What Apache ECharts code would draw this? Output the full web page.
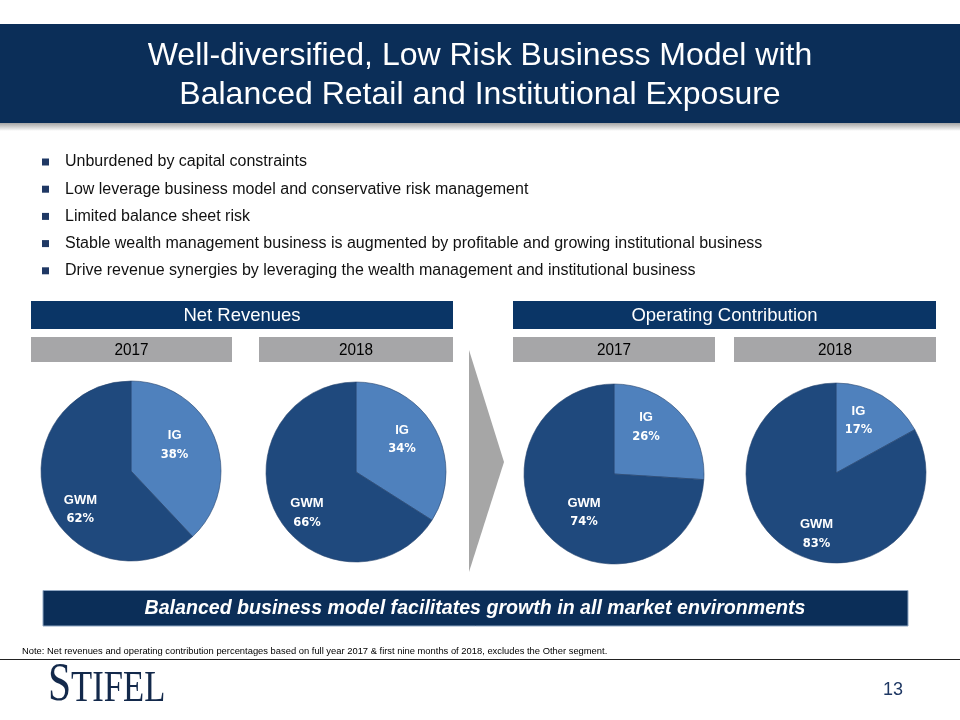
<!DOCTYPE html>
<html>
<head>
<meta charset="utf-8">
<script src="https://cdn.jsdelivr.net/npm/echarts@6/dist/echarts.min.js"></script>
<style>html,body{margin:0;padding:0;background:#fff;}#c{width:960px;height:720px;}</style>
</head>
<body>
<div id="c"></div>
<script>
const titleLines = ['Well-diversified, Low Risk Business Model with', 'Balanced Retail and Institutional Exposure'];
const bullets = [
  'Unburdened by capital constraints',
  'Low leverage business model and conservative risk management',
  'Limited balance sheet risk',
  'Stable wealth management business is augmented by profitable and growing institutional business',
  'Drive revenue synergies by leveraging the wealth management and institutional business'
];
const groups = ['Net Revenues', 'Operating Contribution'];
const years = ['2017', '2018'];
const segments = ['IG', 'GWM'];
const netRevIG = [38, 34];
const netRevGWM = [62, 66];
const opContribIG = [26, 17];
const opContribGWM = [74, 83];
const bannerText = 'Balanced business model facilitates growth in all market environments';
const noteText = 'Note: Net revenues and operating contribution percentages based on full year 2017 & first nine months of 2018, excludes the Other segment.';
const logoFirst = 'S';
const logoRest = 'TIFEL';
const pageNumber = '13';

const NAVY = '#0B2E58';
const BAR = '#0A3566';
const GREY = '#A6A6A8';
const IG_COLOR = '#4F81BD';
const GWM_COLOR = '#1F497D';
const SANS = '"Liberation Sans", Arial, sans-serif';
const SERIF = '"Liberation Serif", "DejaVu Serif", serif';

const chart = echarts.init(document.getElementById('c'), null, {renderer: 'canvas'});

const graphics = [];
// header
graphics.push({type: 'rect', shape: {x: 0, y: 122, width: 960, height: 9}, style: {fill: new echarts.graphic.LinearGradient(0, 0, 0, 1, [{offset: 0, color: '#9a9a9a'}, {offset: 1, color: '#ffffff'}])}});
graphics.push({type: 'rect', shape: {x: 0, y: 24, width: 960, height: 99}, style: {fill: NAVY}});
titleLines.forEach((t, i) => {
  graphics.push({type: 'text', x: 480, y: 56 + i * 39, style: {text: t, fill: '#fff', font: '32px ' + SANS, textAlign: 'center', textVerticalAlign: 'middle'}});
});
// bullets
bullets.forEach((b, i) => {
  const y = 162 + i * 27.2;
  graphics.push({type: 'rect', shape: {x: 42, y: y - 3.5, width: 7, height: 7}, style: {fill: '#1F3864'}});
  graphics.push({type: 'text', x: 65, y: y, style: {text: b, fill: '#111', font: '16px ' + SANS, textVerticalAlign: 'middle'}});
});
// section headers
const groupBoxes = [[31, 422], [513, 423]];
groups.forEach((g, i) => {
  const [x, w] = groupBoxes[i];
  graphics.push({type: 'rect', shape: {x: x, y: 301, width: w, height: 28}, style: {fill: BAR}});
  graphics.push({type: 'text', x: x + w / 2, y: 315.5, style: {text: g, fill: '#fff', font: '18.5px ' + SANS, textAlign: 'center', textVerticalAlign: 'middle'}});
});
const yearBoxes = [[31, 201], [259, 194], [513, 202], [734, 202]];
yearBoxes.forEach((bx, i) => {
  const cx = bx[0] + bx[1] / 2;
  graphics.push({type: 'rect', shape: {x: bx[0], y: 337, width: bx[1], height: 25}, style: {fill: GREY}});
  graphics.push({type: 'text', x: cx, y: 350, scaleX: 0.9, style: {text: years[i % 2], fill: '#000', font: '17px ' + SANS, textAlign: 'center', textVerticalAlign: 'middle'}});
});
// arrow
graphics.push({type: 'polygon', shape: {points: [[469, 350], [504, 462], [469, 572]]}, style: {fill: '#A6A6A6'}});
// banner
graphics.push({type: 'rect', shape: {x: 43, y: 590.5, width: 865, height: 35.5}, style: {fill: NAVY, stroke: '#8FA6C2', lineWidth: 1}});
graphics.push({type: 'text', x: 475, y: 608.5, style: {text: bannerText, fill: '#fff', font: 'italic bold 19.6px ' + SANS, textAlign: 'center', textVerticalAlign: 'middle'}});
// note
graphics.push({type: 'text', x: 22, y: 651, style: {text: noteText, fill: '#000', font: '9.4px ' + SANS, textVerticalAlign: 'middle'}});
graphics.push({type: 'line', shape: {x1: 0, y1: 659.5, x2: 960, y2: 659.5}, style: {stroke: '#222', lineWidth: 1.2}});
// logo
graphics.push({type: 'text', x: 48, y: 686, scaleX: 0.77, style: {text: logoFirst, fill: '#13294B', font: '54px ' + SERIF, textVerticalAlign: 'middle'}});
graphics.push({type: 'text', x: 71, y: 689, scaleX: 0.77, style: {text: logoRest, fill: '#13294B', font: '45px ' + SERIF, textVerticalAlign: 'middle'}});
graphics.push({type: 'text', x: 893, y: 690, style: {text: pageNumber, fill: '#1F3864', font: '18px ' + SANS, textAlign: 'center', textVerticalAlign: 'middle'}});

// pies
const pieDefs = [
  {ig: netRevIG[0], gwm: netRevGWM[0], center: [131, 471]},
  {ig: netRevIG[1], gwm: netRevGWM[1], center: [356, 472]},
  {ig: opContribIG[0], gwm: opContribGWM[0], center: [614, 474]},
  {ig: opContribIG[1], gwm: opContribGWM[1], center: [836, 473]}
];
const labelNudge = [
  [[-1, -8], [-6, 21]],
  [[4, -9], [-7, 18]],
  [[-3, -14], [5, 6]],
  [[-2, -11], [5, 20]]
];
const series = pieDefs.map((p, si) => ({
  type: 'pie',
  center: p.center,
  radius: [0, 90],
  startAngle: 90,
  clockwise: true,
  animation: false,
  silent: true,
  label: {
    show: true,
    position: 'inside',
    formatter: (d) => '{n|' + d.name + '}\n{v|' + d.value + '%}',
    rich: {
      n: {fontFamily: SANS, fontWeight: 'bold', fontSize: 13, color: '#fff', lineHeight: 19, align: 'center'},
      v: {fontFamily: '"DejaVu Sans", Verdana, sans-serif', fontWeight: 'bold', fontSize: 11.5, color: '#fff', lineHeight: 19, align: 'center'}
    }
  },
  labelLayout: (params) => {
    const n = labelNudge[si][params.dataIndex];
    return {dx: n[0], dy: n[1]};
  },
  labelLine: {show: false},
  itemStyle: {borderColor: '#27456e', borderWidth: 0.6},
  data: [
    {name: segments[0], value: p.ig, itemStyle: {color: IG_COLOR}},
    {name: segments[1], value: p.gwm, itemStyle: {color: GWM_COLOR}}
  ]
}));

chart.setOption({
  animation: false,
  backgroundColor: '#fff',
  graphic: {elements: graphics},
  series: series
});
</script>
</body>
</html>
